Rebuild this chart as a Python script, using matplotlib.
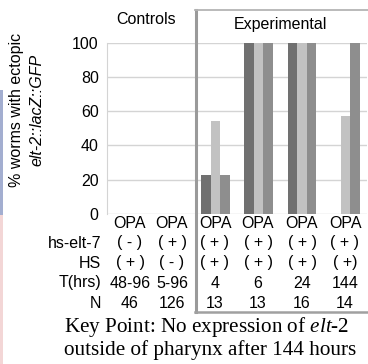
import numpy as np
import matplotlib.pyplot as plt
from matplotlib.patches import Rectangle
from matplotlib.lines import Line2D

# данные
categories = ['OPA', 'OPA', 'OPA', 'OPA', 'OPA', 'OPA']
dark = [0, 0, 23, 100, 100, 0]
light = [0, 0, 54, 100, 100, 57]
mid = [0, 0, 23, 100, 100, 100]
hs_elt7 = ['( - )', '( + )', '( + )', '( + )', '( + )', '( + )']
hs = ['( + )', '( - )', '( + )', '( + )', '( + )', '( +)']
t_hrs = ['48-96', '5-96', '4', '6', '24', '144']
n_worms = ['46', '126', '13', '13', '16', '14']
yticks = [0, 20, 40, 60, 80, 100]

plt.rcParams['font.family'] = ['Liberation Sans', 'DejaVu Sans']
plt.rcParams['mathtext.fontset'] = 'custom'
plt.rcParams['mathtext.it'] = 'Liberation Serif:italic'
plt.rcParams['mathtext.rm'] = 'Liberation Serif'

fig = plt.figure(figsize=(3.68, 3.64), dpi=100)
W, H = 368, 364
ax = fig.add_axes([107 / W, 1 - 214 / H, 260 / W, (214 - 42.7) / H])

x = np.arange(len(categories))
bw = 0.22
ax.bar(x - bw, dark, bw, color='#707070', zorder=3)
ax.bar(x, light, bw, color='#c2c2c2', zorder=3)
ax.bar(x + bw, mid, bw, color='#8e8e8e', zorder=3)

ax.set_xlim(-0.5, 5.5)
ax.set_ylim(0, 100)
ax.set_yticks(yticks)
ax.set_yticklabels([str(v) for v in yticks], fontsize=11.5)
ax.tick_params(axis='y', length=0, pad=6)
ax.set_xticks([])
ax.grid(axis='y', color='#d4d4d4', lw=1, zorder=0)
for s in ['top', 'right', 'bottom']:
    ax.spines[s].set_visible(False)
ax.spines['left'].set_color('#d4d4d4')

# строки таблицы под осью
def px(xp, yp):
    return xp / W, 1 - yp / H

rows = [('', categories, 223), ('hs-elt-7', hs_elt7, 243), ('HS', hs, 263),
        ('T(hrs)', t_hrs, 283), ('N', n_worms, 303)]
col_x = [130, 172, 215, 258, 302, 345]
for label, vals, yp in rows:
    if label:
        fig.text(*px(101, yp), label, ha='right', va='center', fontsize=11.5)
    for cx, v in zip(col_x, vals):
        fig.text(*px(cx, yp), v, ha='center', va='center', fontsize=11.5)

# рамка Experimental с тенью
fig.add_artist(Line2D([px(195.5, 0)[0]] * 2, [px(0, 312)[1], px(0, 10)[1]],
                      transform=fig.transFigure, color='#9a9a9a', lw=2.2, zorder=6))
fig.add_artist(Line2D([px(195, 0)[0], px(370, 0)[0]], [px(0, 311.5)[1]] * 2,
                      transform=fig.transFigure, color='#a0a0a0', lw=1.8, zorder=6))
fig.add_artist(Line2D([px(195, 0)[0], px(370, 0)[0]], [px(0, 10)[1]] * 2,
                      transform=fig.transFigure, color='#b4b4b4', lw=1.3, zorder=6))
fig.text(*px(146, 20), 'Controls', ha='center', va='center', fontsize=11.5)
fig.text(*px(280, 25), 'Experimental', ha='center', va='center', fontsize=11.5)

# подпись оси y
fig.text(*px(17, 110), '% worms with ectopic', rotation=90, ha='center', va='center', fontsize=11.5)
fig.text(*px(37, 110), 'elt-2::lacZ::GFP', rotation=90, ha='center', va='center',
         fontsize=11.5, style='italic')

# полоски по левому краю
fig.patches.append(Rectangle(px(0, 215), 3 / W, 125 / H, transform=fig.transFigure,
                             facecolor='#a3aed0', edgecolor='none'))
fig.patches.append(Rectangle(px(0, 364), 3 / W, 149 / H, transform=fig.transFigure,
                             facecolor='#f3d6d6', edgecolor='none'))

# ключевой вывод
fig.text(*px(64, 327), 'Key Point: No expression of $\\it{elt\\text{-}2}$', ha='left', va='center',
         fontsize=15.2, family='Liberation Serif')
fig.text(*px(64, 350), 'outside of pharynx after 144 hours', ha='left', va='center',
         fontsize=15.2, family='Liberation Serif')

fig.savefig('out.png', dpi=100)
